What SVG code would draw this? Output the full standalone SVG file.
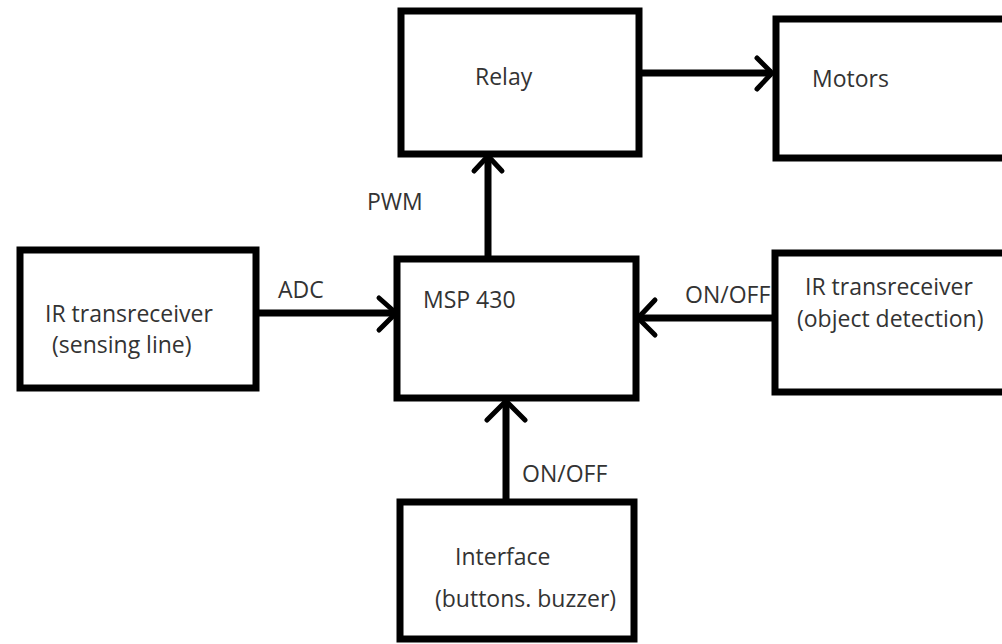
<svg xmlns="http://www.w3.org/2000/svg" width="1002" height="644" viewBox="0 0 1002 644">
<style>
.box{fill:#fff;stroke:#000;stroke-width:7}
.ln{stroke:#000;stroke-width:7;fill:none}
.hd{stroke:#000;stroke-width:5;fill:none;stroke-linecap:round}
text{font-family:"Open Sans","Liberation Sans",sans-serif;font-size:23px;fill:#333}
</style>
<rect width="1002" height="644" fill="#fff"/>
<g id="connectors">
<path class="ln" d="M640 73H772"/><path class="hd" d="M757 58L772 73L757 89"/>
<path class="ln" d="M488 259V156"/><path class="hd" d="M474 171L488 156L502 171"/>
<path class="ln" d="M256 313H396"/><path class="hd" d="M379 298L396 313L379 330"/>
<path class="ln" d="M775 318H638"/><path class="hd" d="M655 300L638 318L655 335"/>
<path class="ln" d="M506 502V401"/><path class="hd" d="M487 420L506 401L525 420"/>
</g>
<g id="relay"><rect class="box" x="401" y="11" width="238" height="143"/><text x="475" y="85">Relay</text></g>
<g id="motors"><rect class="box" x="776" y="19" width="236" height="139"/><text x="812" y="87">Motors</text></g>
<g id="msp430"><rect class="box" x="397" y="259" width="239" height="139"/><text x="423" y="308">MSP 430</text></g>
<g id="ir-left"><rect class="box" x="20" y="250" width="236" height="138"/><text x="45" y="322">IR transreceiver</text><text x="52" y="353">(sensing line)</text></g>
<g id="ir-right"><rect class="box" x="775" y="253" width="240" height="139"/><text x="805" y="295">IR transreceiver</text><text x="797" y="327">(object detection)</text></g>
<g id="interface"><rect class="box" x="400" y="502" width="234" height="137"/><text x="455" y="565">Interface</text><text x="435" y="607">(buttons. buzzer)</text></g>
<g id="labels"><text x="367" y="210">PWM</text><text x="278" y="298">ADC</text><text x="685" y="303">ON/OFF</text><text x="522" y="482">ON/OFF</text></g>
</svg>
